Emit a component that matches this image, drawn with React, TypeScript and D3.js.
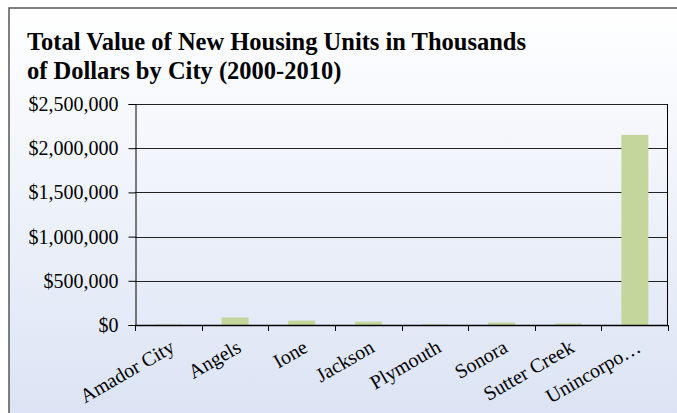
import { useEffect, useRef } from "react";
import * as d3 from "d3";

const cities = ["Amador City", "Angels", "Ione", "Jackson", "Plymouth", "Sonora", "Sutter Creek", "Unincorpo…"];
const values = [6000, 85000, 50000, 38000, 7000, 27000, 16000, 2150000];
const yTicks = [0, 500000, 1000000, 1500000, 2000000, 2500000];
const titleLines = ["Total Value of New Housing Units in Thousands", "of Dollars by City (2000-2010)"];

const FONT = "'Liberation Serif', 'Times New Roman', serif";

export default function App() {
  const ref = useRef<SVGSVGElement>(null);
  useEffect(() => {
    if (!ref.current) return;
    const svg = d3.select(ref.current);
    svg.selectAll("*").remove();
    const w = 677;
    const h = 413;
    const m = { t: 104, r: 9, b: 88, l: 135 };

    const defs = svg.append("defs");
    const grad = defs.append("linearGradient").attr("id", "bg").attr("x1", 0).attr("y1", 0).attr("x2", 0).attr("y2", 1);
    grad.append("stop").attr("offset", "0%").attr("stop-color", "#ffffff");
    grad.append("stop").attr("offset", "100%").attr("stop-color", "#dbe3f4");

    svg.append("rect").attr("x", 9).attr("y", 8).attr("width", w).attr("height", h)
      .attr("fill", "url(#bg)").attr("stroke", "#555").attr("stroke-width", 1.5);

    svg.selectAll("text.title").data(titleLines).join("text")
      .attr("class", "title")
      .attr("x", 27).attr("y", (_, i) => 50 + i * 29)
      .attr("font-family", FONT).attr("font-size", 24.5).attr("font-weight", "bold")
      .attr("fill", "#000").text((d) => d);

    const x = d3.scaleBand<string>().domain(cities).range([m.l, w - m.r]).padding(0);
    const y = d3.scaleLinear().domain([0, 2500000]).range([h - m.b, m.t]);
    const fmt = (v: number) => "$" + d3.format(",")(v);

    // gridlines
    svg.append("g").selectAll("line").data(yTicks).join("line")
      .attr("x1", m.l).attr("x2", w - m.r)
      .attr("y1", (d) => Math.round(y(d)) + 0.5).attr("y2", (d) => Math.round(y(d)) + 0.5)
      .attr("stroke", "#222").attr("stroke-width", 1);

    // bars
    svg.append("g").selectAll("rect").data(cities).join("rect")
      .attr("x", (d) => x(d)! + x.bandwidth() * 0.3)
      .attr("width", x.bandwidth() * 0.405)
      .attr("y", (_, i) => y(values[i]))
      .attr("height", (_, i) => y(0) - y(values[i]))
      .attr("fill", "#c4d69b");

    // y axis
    svg.append("g")
      .attr("transform", `translate(${m.l + 0.5},0)`)
      .call(d3.axisLeft(y).tickValues(yTicks).tickSize(7).tickPadding(10).tickFormat((d) => fmt(+d)))
      .call((g) => g.selectAll("text").attr("font-family", FONT).attr("font-size", 20).attr("fill", "#000"))
      .call((g) => g.selectAll("line").attr("stroke", "#000"))
      .call((g) => g.select(".domain").attr("stroke", "#000"));

    // right edge
    svg.append("line")
      .attr("x1", w - m.r - 0.5).attr("x2", w - m.r - 0.5)
      .attr("y1", m.t).attr("y2", y(0))
      .attr("stroke", "#000");

    // x axis
    const xa = svg.append("g");
    xa.append("line").attr("x1", m.l).attr("x2", w - m.r)
      .attr("y1", Math.round(y(0)) + 0.5).attr("y2", Math.round(y(0)) + 0.5)
      .attr("stroke", "#000").attr("stroke-width", 1.5);
    const edges = [...cities.map((c) => x(c)!), w - m.r];
    xa.selectAll("line.tick").data(edges).join("line")
      .attr("class", "tick")
      .attr("x1", (d) => Math.round(d) + 0.5).attr("x2", (d) => Math.round(d) + 0.5)
      .attr("y1", y(0)).attr("y2", y(0) + 6)
      .attr("stroke", "#000");
    xa.selectAll("text").data(cities).join("text")
      .attr("transform", (d) => `translate(${x(d)! + x.bandwidth() / 2},338) rotate(-30)`)
      .attr("text-anchor", "end").attr("dy", "0.75em")
      .attr("font-family", FONT).attr("font-size", 20).attr("fill", "#000")
      .text((d) => d);
  }, []);
  return (
    <svg ref={ref} width={677} height={413} style={{ position: "absolute", left: 0, top: 0 }} />
  );
}
